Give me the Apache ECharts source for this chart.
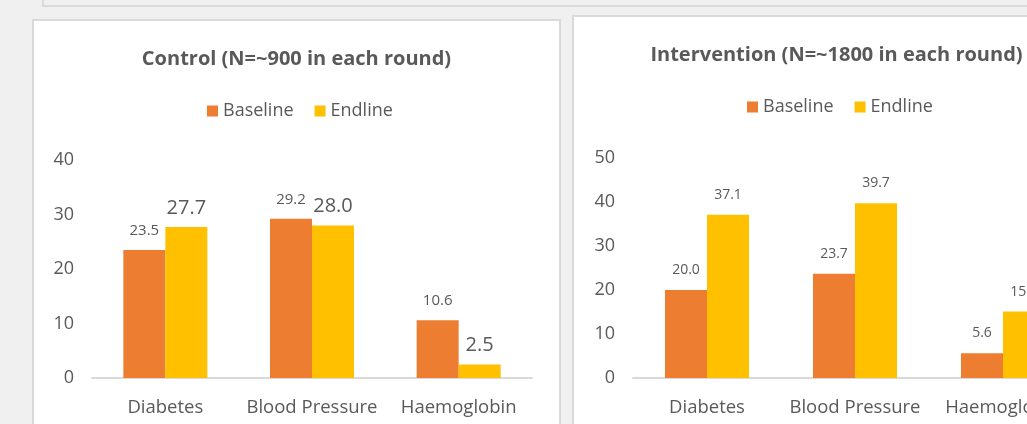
<!DOCTYPE html>
<html>
<head>
<meta charset="utf-8">
<script src="https://cdn.jsdelivr.net/npm/echarts/dist/echarts.min.js"></script>
<style>
  html, body { margin: 0; padding: 0; width: 1027px; height: 424px; overflow: hidden; background: #f0f0f0; }
  .topbox { position: absolute; left: 42px; top: -20px; width: 1100px; height: 23px; border: 2px solid #dadada; background: #f0f0f0; }
  .panel { position: absolute; width: 525px; height: 480px; border: 2px solid #d9d9d9; background: #ffffff; }
  .chart { width: 525px; height: 420px; }
</style>
</head>
<body>
<div class="topbox"></div>
<div class="panel" style="left:32px; top:19px;"><div id="c1" class="chart"></div></div>
<div class="panel" style="left:572px; top:15px;"><div id="c2" class="chart"></div></div>
<script>
const categories = ['Diabetes', 'Blood Pressure', 'Haemoglobin'];
const seriesNames = ['Baseline', 'Endline'];
const controlTitle = 'Control (N=~900 in each round)';
const controlBaseline = [23.5, 29.2, 10.6];
const controlEndline = [27.7, 28.0, 2.5];
const controlTicks = [0, 10, 20, 30, 40];
const interventionTitle = 'Intervention (N=~1800 in each round)';
const interventionBaseline = [20.0, 23.7, 5.6];
const interventionEndline = [37.1, 39.7, 15.1];
const interventionTicks = [0, 10, 20, 30, 40, 50];

const FONT = '"Open Sans", "Noto Sans", sans-serif';
const TXT = '#595959';
const ORANGE = '#ED7D31';
const YELLOW = '#FFC000';

function makeOption(cfg) {
  const ticks = cfg.ticks;
  return {
    animation: false,
    textStyle: { fontFamily: FONT },
    title: {
      text: cfg.title, left: 'center', top: 26, padding: 0,
      textStyle: { fontFamily: FONT, fontSize: 20, fontWeight: 'bold', color: TXT, lineHeight: 24 }
    },
    legend: {
      data: seriesNames, left: 173, top: 81, padding: 0,
      icon: 'rect', itemWidth: 11, itemHeight: 11, itemGap: 21,
      textStyle: { fontFamily: FONT, fontSize: 18, color: TXT, padding: [0, 0, 0, 0] }
    },
    grid: { left: cfg.gridLeft, top: cfg.gridTop, width: cfg.gridWidth, height: cfg.gridHeight, containLabel: false },
    xAxis: {
      type: 'category', data: categories,
      axisTick: { show: false },
      axisLine: { lineStyle: { color: '#d9d9d9', width: 2 } },
      axisLabel: { color: TXT, fontFamily: FONT, fontSize: 18.5, margin: 20, interval: 0, hideOverlap: false }
    },
    yAxis: {
      type: 'value', min: ticks[0], max: ticks[ticks.length - 1], interval: ticks[1] - ticks[0],
      axisLine: { show: false }, axisTick: { show: false }, splitLine: { show: false },
      axisLabel: { color: TXT, fontFamily: FONT, fontSize: 18, margin: 18 }
    },
    series: [
      {
        name: seriesNames[0], type: 'bar', data: cfg.baseline, barWidth: 42, barGap: '0%',
        itemStyle: { color: ORANGE },
        label: { show: true, position: 'top', distance: cfg.baseDist, color: TXT, fontFamily: FONT, fontSize: cfg.baseFont,
                 formatter: p => Number(p.value).toFixed(1) }
      },
      {
        name: seriesNames[1], type: 'bar', data: cfg.endline, barWidth: 42, barGap: '0%',
        itemStyle: { color: YELLOW },
        label: { show: true, position: 'top', distance: cfg.endDist, color: TXT, fontFamily: FONT, fontSize: cfg.endFont,
                 formatter: p => Number(p.value).toFixed(1) }
      }
    ]
  };
}

function draw() {
  const c1 = echarts.init(document.getElementById('c1'), null, { renderer: 'canvas' });
  c1.setOption(makeOption({
    title: controlTitle, baseline: controlBaseline, endline: controlEndline, ticks: controlTicks,
    gridLeft: 58, gridTop: 139, gridHeight: 218, gridWidth: 440,
    baseFont: 15, endFont: 20, baseDist: 12, endDist: 9
  }));
  const c2 = echarts.init(document.getElementById('c2'), null, { renderer: 'canvas' });
  c2.setOption(makeOption({
    title: interventionTitle, baseline: interventionBaseline, endline: interventionEndline, ticks: interventionTicks,
    gridLeft: 59, gridTop: 141, gridHeight: 220, gridWidth: 444,
    baseFont: 14, endFont: 14, baseDist: 13, endDist: 13
  }));
}

if (document.fonts && document.fonts.load) {
  Promise.all([
    document.fonts.load('18px "Open Sans"'),
    document.fonts.load('bold 20px "Open Sans"')
  ]).then(draw, draw);
} else {
  draw();
}
</script>
</body>
</html>
